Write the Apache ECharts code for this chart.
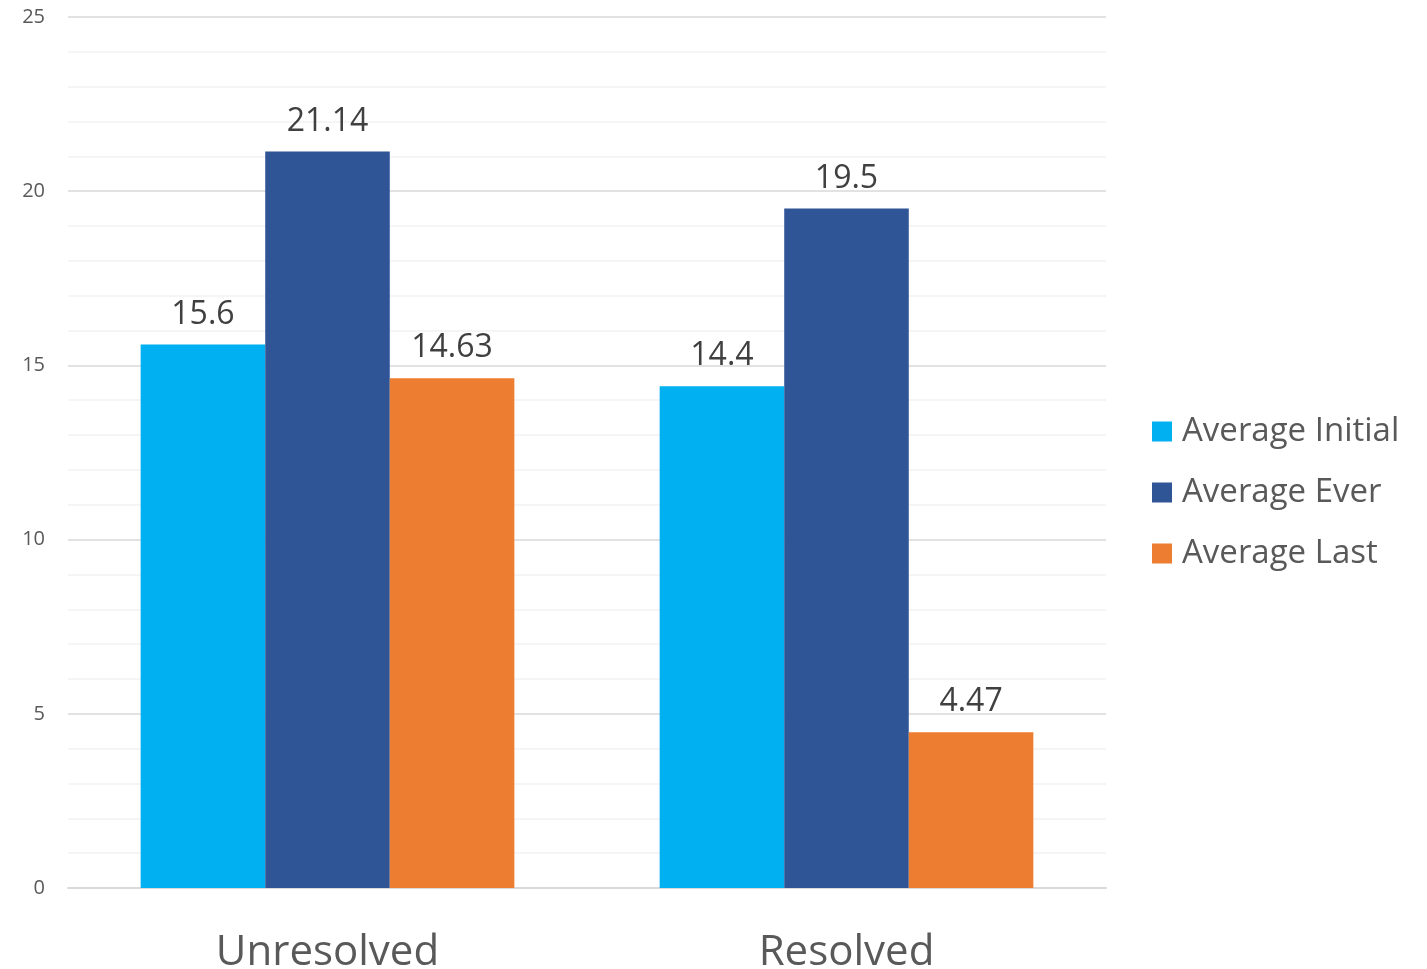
<!DOCTYPE html>
<html><head><meta charset="utf-8">
<script src="https://cdn.jsdelivr.net/npm/echarts@6/dist/echarts.min.js"></script>
<style>html,body{margin:0;padding:0;background:#fff}#c{width:1427px;height:969px}</style>
</head><body><div id="c"></div>
<script>
const categories = ['Unresolved', 'Resolved'];
const seriesNames = ['Average Initial', 'Average Ever', 'Average Last'];
const averageInitial = [15.6, 14.4];
const averageEver = [21.14, 19.5];
const averageLast = [14.63, 4.47];
const colors = ['#00B0F0', '#2F5597', '#ED7D31'];
const FONT = '"Open Sans", "Noto Sans", sans-serif';

const chart = echarts.init(document.getElementById('c'));
const values = [averageInitial, averageEver, averageLast];
chart.setOption({
  animation: false,
  textStyle: { fontFamily: FONT },
  grid: { left: 68, right: 321, top: 17, bottom: 81, containLabel: false, outerBoundsMode: 'none' },
  legend: {
    orient: 'vertical', left: 1152, top: 415, padding: 0,
    itemWidth: 20, itemHeight: 20, itemGap: 28, icon: 'rect',
    textStyle: { fontSize: 33, color: '#595959', fontFamily: FONT, padding: [0,0,0,5] },
    data: seriesNames
  },
  xAxis: {
    type: 'category', data: categories,
    axisLine: { lineStyle: { color: '#d9d9d9', width: 2 } },
    axisTick: { show: false },
    axisLabel: { fontSize: 42, color: '#595959', margin: 44, fontFamily: FONT }
  },
  yAxis: {
    type: 'value', min: 0, max: 25, interval: 5,
    axisLine: { show: false }, axisTick: { show: false },
    axisLabel: { fontSize: 20, color: '#595959', margin: 23, fontFamily: FONT },
    splitLine: { lineStyle: { color: '#d9d9d9', width: 1.5 } },
    minorTick: { show: false, splitNumber: 5 },
    minorSplitLine: { show: true, lineStyle: { color: '#f2f2f2', width: 1.5 } }
  },
  series: seriesNames.map((n, i) => ({
    name: n, type: 'bar', data: values[i],
    itemStyle: { color: colors[i] },
    barGap: 0, barCategoryGap: '28%',
    label: { show: true, position: 'top', distance: 14, fontSize: 32, color: '#404040', fontFamily: FONT }
  }))
});
</script></body></html>
